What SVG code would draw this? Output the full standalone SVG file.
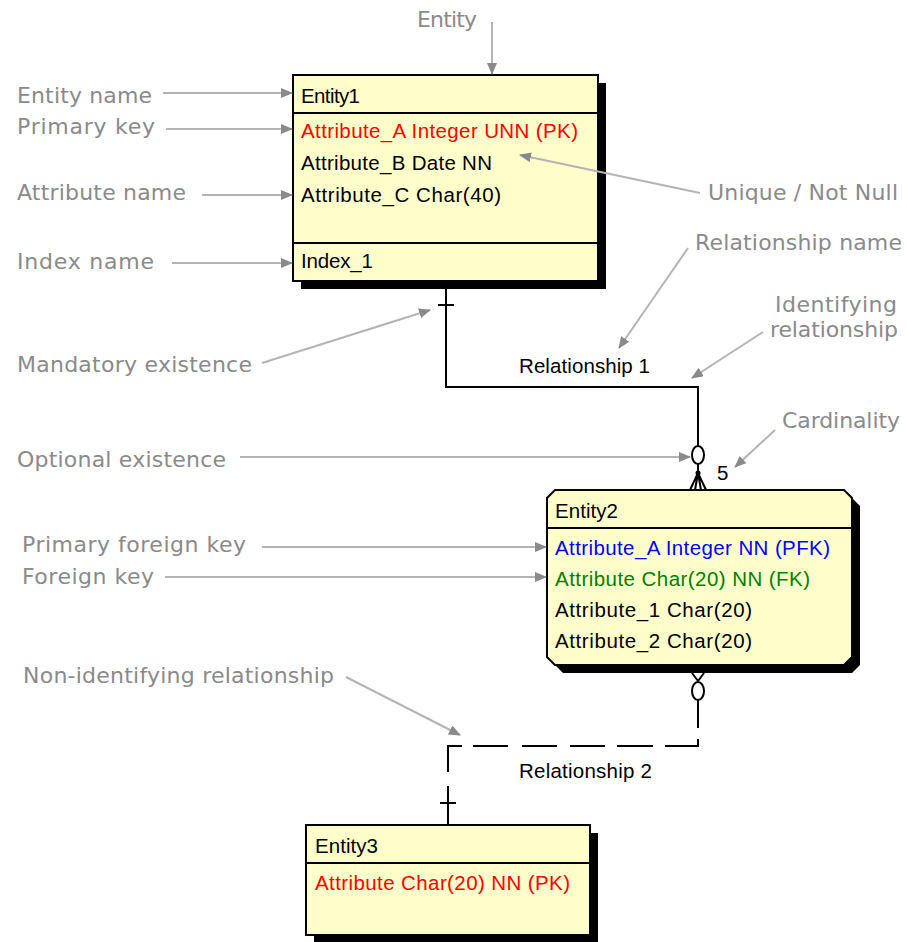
<svg xmlns="http://www.w3.org/2000/svg" width="907" height="942" viewBox="0 0 907 942">
<defs>
<marker id="ah" markerUnits="userSpaceOnUse" markerWidth="12" markerHeight="10" refX="11" refY="5" orient="auto">
<path d="M0,0 L12,5 L0,10 z" fill="#8a8a8a"/>
</marker>
<style>
.lbl{font-family:"DejaVu Sans",sans-serif;font-size:22px;fill:#8a8a8a}
.t{font-family:"Liberation Sans",Arial,sans-serif;font-size:20.5px;fill:#000}
.red{fill:#ff0000}.blue{fill:#0000ff}.green{fill:#008000}
.box{fill:#ffffcc;stroke:#000;stroke-width:2}
.shadow{fill:#000}
.sep{stroke:#000;stroke-width:2}
.ann{stroke:#b4b4b4;stroke-width:2;fill:none;marker-end:url(#ah)}
.rel{stroke:#000;stroke-width:2;fill:none}
.circ{fill:#fff;stroke:#000;stroke-width:2}
</style>
</defs>
<rect width="907" height="942" fill="#fff"/>

<g id="entity1">
<rect class="shadow" x="301" y="83" width="305" height="206"/>
<rect class="box" x="293" y="75" width="305" height="206"/>
<line class="sep" x1="293" y1="113" x2="598" y2="113"/>
<line class="sep" x1="293" y1="243" x2="598" y2="243"/>
<text class="t" x="301" y="103" textLength="59">Entity1</text>
<text class="t red" x="301" y="138" textLength="277">Attribute_A Integer UNN (PK)</text>
<text class="t" x="301" y="170" textLength="191">Attribute_B Date NN</text>
<text class="t" x="301" y="202" textLength="200">Attribute_C Char(40)</text>
<text class="t" x="301" y="268" textLength="72">Index_1</text>
</g>

<g id="entity2">
<path class="shadow" d="M563,498 H852 L860,506 V665 L852,673 H563 L555,665 V506 Z"/>
<path class="box" d="M555,490 H844 L852,498 V657 L844,665 H555 L547,657 V498 Z"/>
<line class="sep" x1="547" y1="528" x2="852" y2="528"/>
<text class="t" x="555" y="518" textLength="63">Entity2</text>
<text class="t blue" x="555" y="555" textLength="275">Attribute_A Integer NN (PFK)</text>
<text class="t green" x="555" y="586" textLength="255">Attribute Char(20) NN (FK)</text>
<text class="t" x="555" y="617" textLength="197">Attribute_1 Char(20)</text>
<text class="t" x="555" y="648" textLength="197">Attribute_2 Char(20)</text>
</g>

<g id="entity3">
<rect class="shadow" x="314" y="833" width="284" height="110"/>
<rect class="box" x="306" y="825" width="284" height="110"/>
<line class="sep" x1="306" y1="863" x2="590" y2="863"/>
<text class="t" x="315" y="853" textLength="63">Entity3</text>
<text class="t red" x="315" y="890" textLength="255">Attribute Char(20) NN (PK)</text>
</g>

<g id="connectors">
<g id="relationship1">
<path class="rel" d="M446,289 V387 H698 V446"/>
<line class="rel" x1="438" y1="305" x2="454" y2="305"/>
<ellipse class="circ" cx="698" cy="455" rx="6" ry="9"/>
<line class="rel" x1="698" y1="464" x2="698" y2="473"/>
<circle cx="698" cy="473" r="2.5" fill="#000"/>
<path class="rel" d="M698,473 L690,490 M698,473 L695,490 M698,473 L701,490 M698,473 L706,490" stroke-width="1.5"/>
<text class="t" x="519" y="373" textLength="131">Relationship 1</text>
<text class="t" x="717" y="480">5</text>
</g>
<g id="relationship2">
<path class="rel" d="M698,681 L692,673 M698,681 L704,673" stroke-width="1.5"/>
<ellipse class="circ" cx="698" cy="691" rx="6" ry="9"/>
<line class="rel" x1="698" y1="700" x2="698" y2="728"/>
<path class="rel" d="M698,739 V746 H665"/>
<path class="rel" d="M653,746 H617 M605,746 H570 M557,746 H522 M508,746 H473"/>
<path class="rel" d="M462,746 H448 V772"/>
<line class="rel" x1="448" y1="786" x2="448" y2="825"/>
<line class="rel" x1="440" y1="803" x2="456" y2="803"/>
<text class="t" x="519" y="778" textLength="133">Relationship 2</text>
</g>
</g>

<g id="annotations">
<text class="lbl" x="417" y="27" textLength="60">Entity</text>
<text class="lbl" x="17" y="103" textLength="135">Entity name</text>
<text class="lbl" x="17" y="134" textLength="138">Primary key</text>
<text class="lbl" x="17" y="200" textLength="169">Attribute name</text>
<text class="lbl" x="17" y="269" textLength="137">Index name</text>
<text class="lbl" x="708" y="200" textLength="190">Unique / Not Null</text>
<text class="lbl" x="695" y="250" textLength="207">Relationship name</text>
<text class="lbl" x="775" y="312" textLength="122">Identifying</text>
<text class="lbl" x="770" y="337" textLength="128">relationship</text>
<text class="lbl" x="782" y="428" textLength="118">Cardinality</text>
<text class="lbl" x="17" y="372" textLength="235">Mandatory existence</text>
<text class="lbl" x="17" y="467" textLength="209">Optional existence</text>
<text class="lbl" x="22" y="552" textLength="224">Primary foreign key</text>
<text class="lbl" x="22" y="584" textLength="132">Foreign key</text>
<text class="lbl" x="23" y="683" textLength="311">Non-identifying relationship</text>
<path class="ann" d="M492,22 L492,74"/>
<path class="ann" d="M163,93 L292,93"/>
<path class="ann" d="M166,129 L292,129"/>
<path class="ann" d="M202,195 L292,195"/>
<path class="ann" d="M172,263 L292,263"/>
<path class="ann" d="M700,193 L520,155"/>
<path class="ann" d="M688,248 L619,348"/>
<path class="ann" d="M763,332 L692,378"/>
<path class="ann" d="M775,430 L735,467"/>
<path class="ann" d="M262,363 L430,310"/>
<path class="ann" d="M240,457 L690,457"/>
<path class="ann" d="M262,547 L546,547"/>
<path class="ann" d="M165,577 L546,577"/>
<path class="ann" d="M346,677 L460,735"/>
</g>
</svg>
